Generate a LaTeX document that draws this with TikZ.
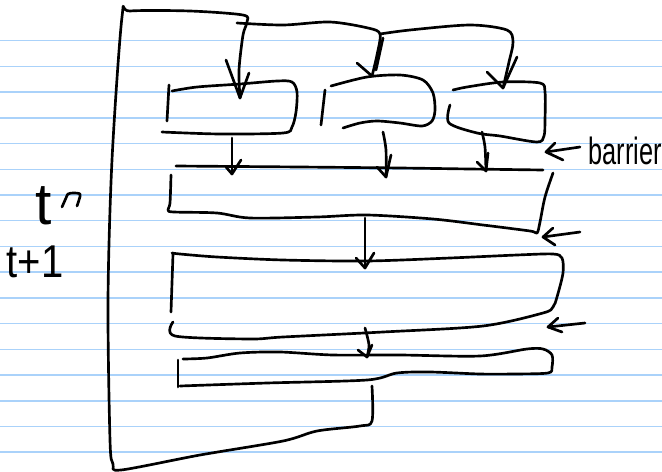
\documentclass[tikz,border=0pt]{standalone}
\usepackage{fontspec}
\setmainfont{Liberation Sans}
\definecolor{paperline}{RGB}{170,210,250}

\begin{document}
\begin{tikzpicture}[x=0.75pt,y=-0.75pt,
  pen/.style={line width=2pt,line cap=round,line join=round}]
\useasboundingbox (0,0) rectangle (662,472);
\fill[white] (0,0) rectangle (662,472);
\foreach \k in {0,...,16}
  \draw[paperline,line width=1.1pt] (0,40.7+25.72*\k) -- (662,40.7+25.72*\k);

% arrow tips
\coordinate (in1) at (240,98);
\coordinate (in2) at (372,76);
\coordinate (in3) at (503,88);
\coordinate (a1) at (232,174);
\coordinate (a2) at (386,177);
\coordinate (a3) at (486,171);
\coordinate (a4) at (365,268);
\coordinate (a5) at (367,357);
\coordinate (b1) at (546,152);
\coordinate (b2) at (543,237);
\coordinate (b3) at (548,327);

% outer frame, down into the first block
\draw[pen] plot[smooth,tension=0.5] coordinates {(372,386) (372,421) (360,426) (317,431) (283,441) (200,455) (121,470) (113,464) (110,440) (108,300) (112,160) (122,17) (130,11) (190,11) (243,15) (247,22) (243,35) (239,70) (in1)};
\draw[pen] (226,60) -- (in1) -- (249,73);
\draw[pen] plot[smooth,tension=0.5] coordinates {(237,23) (283,25) (330,22) (368,28) (380,34) (377,55) (in2)};
\draw[pen] (383,38) -- (376,70);
\draw[pen] (357,63) -- (in2);
\draw[pen] plot[smooth,tension=0.5] coordinates {(380,34) (410,30) (470,25) (507,30) (513,42) (509,62) (in3)};
\draw[pen] (487,72) -- (in3) -- (517,57);

% three small blocks
\draw[pen] (169,85) -- (167,121);
\draw[pen] plot[smooth,tension=0.5] coordinates {(172,91) (197,87) (240,84) (277,81) (292,82) (297,92) (296,112) (292,127) (283,133) (220,134) (162,132)};
\draw[pen] (325,90) -- (321,125);
\draw[pen] plot[smooth,tension=0.5] coordinates {(331,86) (367,77) (400,75) (423,80) (433,93) (435,110) (432,121) (422,126) (400,123) (377,121) (360,123) (343,128)};
\draw[pen] plot[smooth,tension=0.5] coordinates {(450,105) (449,123) (477,133) (500,136) (537,142) (544,136) (545,120) (545,92) (540,83) (503,82) (467,87) (453,90)};

% down to the barrier
\draw[pen] plot[smooth,tension=0.5] coordinates {(232,138) (232,160) (a1)};
\draw[pen] (226,167) -- (a1) -- (241,160);
\draw[pen] plot[smooth,tension=0.5] coordinates {(383,132) (386,150) (a2)};
\draw[pen] (377,167) -- (a2) -- (391,155);
\draw[pen] plot[smooth,tension=0.5] coordinates {(482,132) (485,147) (a3)};
\draw[pen] (477,162) -- (a3) -- (488,153);

% barrier block
\draw[pen] plot[smooth,tension=0.5] coordinates {(176,166) (300,167) (400,168) (470,169) (543,170)};
\draw[pen] plot[smooth,tension=0.5] coordinates {(171,175) (170,203) (168,210) (174,212) (217,213) (250,218) (317,217) (367,215) (433,219) (483,225) (530,231) (537,233) (540,222) (545,197) (553,173)};
\draw[pen] plot[smooth,tension=0.5] coordinates {(365,218) (365,245) (a4)};
\draw[pen] (356,258) -- (a4) -- (374,253);

% second block
\draw[pen] (173,254) -- (171,312);
\draw[pen] plot[smooth,tension=0.5] coordinates {(173,322) (175,336) (250,339) (283,337) (383,332) (483,326) (543,313) (553,307) (557,297) (563,273) (562,258) (553,254) (517,255) (450,258) (367,261) (283,260) (217,257) (180,254) (172,253)};
\draw[pen] plot[smooth,tension=0.5] coordinates {(365,328) (369,345) (a5)};
\draw[pen] (358,350) -- (a5) -- (372,345);

% third block
\draw[pen] (178,360) -- (178,387);
\draw[pen] plot[smooth,tension=0.5] coordinates {(183,359) (207,358) (240,353) (280,352) (333,355) (400,355) (480,356) (527,349) (543,349) (552,355) (552,367) (548,373) (513,374) (480,374) (430,372) (397,373) (367,380) (267,383) (180,386)};

% side arrows and labels
\node[font=\fontsize{19}{19}\selectfont,inner sep=0,yscale=1.5] (barrierlab) at (625,151) {barrier};
\draw[pen] (580,147) -- (b1);
\draw[pen] (555,143) -- (b1) -- (563,160);
\draw[pen] (580,232) -- (b2);
\draw[pen] (553,228) -- (b2) -- (555,245);
\draw[pen] (585,323) -- (b3);
\draw[pen] (558,318) -- (b3) -- (562,332);

\node[font=\fontsize{44}{44}\selectfont,inner sep=0] (tnow) at (44,206) {t};
\draw[pen] plot[smooth,tension=0.5] coordinates {(62,207) (66,198) (68,194) (73,193) (80,194) (79,200) (77,206)};
\node[font=\fontsize{30}{30}\selectfont,inner sep=0,yscale=1.15] (tnext) at (35,262) {t+1};
\end{tikzpicture}
\end{document}
